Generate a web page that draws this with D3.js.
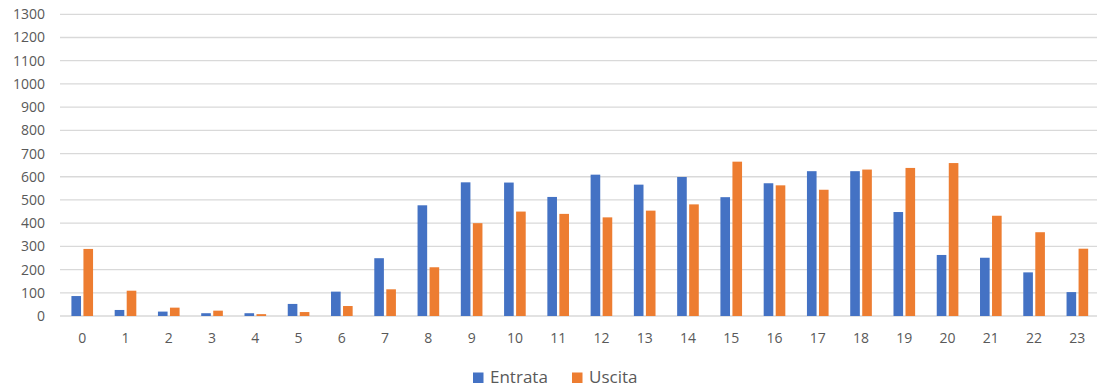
<!DOCTYPE html>
<html>
<head>
<meta charset="utf-8">
<script src="https://cdn.jsdelivr.net/npm/d3@7"></script>
<style>
  html, body { margin: 0; padding: 0; background: #fff; }
  svg { display: block; font-family: "Open Sans", "Noto Sans", sans-serif; }
</style>
</head>
<body>
<svg id="chart" width="1097" height="390"></svg>
<script>
// Hourly counts of entries and exits
const hours = ["0","1","2","3","4","5","6","7","8","9","10","11","12","13","14","15","16","17","18","19","20","21","22","23"];
const entrata = [86, 26, 19, 12, 12, 52, 105, 249, 477, 576, 575, 513, 609, 566, 599, 512, 572, 624, 624, 448, 263, 251, 188, 103];
const uscita  = [289, 109, 36, 23, 8, 17, 43, 115, 210, 400, 450, 440, 425, 454, 481, 665, 563, 544, 631, 638, 659, 432, 361, 290];
const yTicks = [0,100,200,300,400,500,600,700,800,900,1000,1100,1200,1300];
const seriesNames = ["Entrata", "Uscita"];
const seriesColors = ["#4472C4", "#ED7D31"];

const svg = d3.select("#chart");
const plot = { left: 60.6, right: 1099, top: 14.3, bottom: 316 };

const x = d3.scaleBand().domain(hours).range([plot.left, plot.right]).paddingInner(0).paddingOuter(0);
const bw = x.bandwidth();
const x1 = d3.scaleBand().domain(seriesNames).range([bw * 0.25, bw * 0.75]).paddingInner(0.2).paddingOuter(0);
const y = d3.scaleLinear().domain([0, 1300]).range([plot.bottom, plot.top]);

// Horizontal gridlines
svg.append("g")
  .selectAll("line")
  .data(yTicks)
  .join("line")
  .attr("x1", 60).attr("x2", 1097)
  .attr("y1", d => y(d)).attr("y2", d => y(d))
  .attr("stroke", "#d9d9d9")
  .attr("stroke-width", 1.3);

const labelFont = "\"Open Sans\", sans-serif";

// Y axis labels
const yAxis = d3.axisLeft(y).tickValues(yTicks).tickFormat(d3.format("d")).tickSize(0).tickPadding(0);
const gy = svg.append("g").attr("transform", "translate(45,0)").call(yAxis);
gy.select(".domain").remove();
gy.selectAll("text").attr("fill", "#595959").attr("font-size", 14).attr("font-family", labelFont);

// X axis labels
const xAxis = d3.axisBottom(x).tickSize(0).tickPadding(0);
const gx = svg.append("g").attr("transform", `translate(0,${plot.bottom + 17})`).call(xAxis);
gx.select(".domain").remove();
gx.selectAll("text").attr("fill", "#595959").attr("font-size", 14).attr("font-family", labelFont);

// Bars
const rows = hours.map((h, i) => ({ hour: h, values: [entrata[i], uscita[i]] }));
const groups = svg.append("g")
  .selectAll("g")
  .data(rows)
  .join("g")
  .attr("transform", d => `translate(${x(d.hour)},0)`);

groups.selectAll("rect")
  .data(d => d.values.map((v, k) => ({ name: seriesNames[k], value: v, color: seriesColors[k] })))
  .join("rect")
  .attr("x", d => x1(d.name))
  .attr("width", x1.bandwidth())
  .attr("y", d => y(d.value))
  .attr("height", d => y(0) - y(d.value))
  .attr("fill", d => d.color);

// Legend
const legend = svg.append("g").attr("transform", "translate(473,383)");
const legendX = [0, 99];
seriesNames.forEach((name, k) => {
  const g = legend.append("g").attr("transform", `translate(${legendX[k]},0)`);
  g.append("rect").attr("x", 0).attr("y", -10.5).attr("width", 10.5).attr("height", 10.5).attr("fill", seriesColors[k]);
  g.append("text").attr("x", 17).attr("y", 0)
    .attr("fill", "#595959").attr("font-size", 17)
    .text(name);
});
</script>
</body>
</html>
